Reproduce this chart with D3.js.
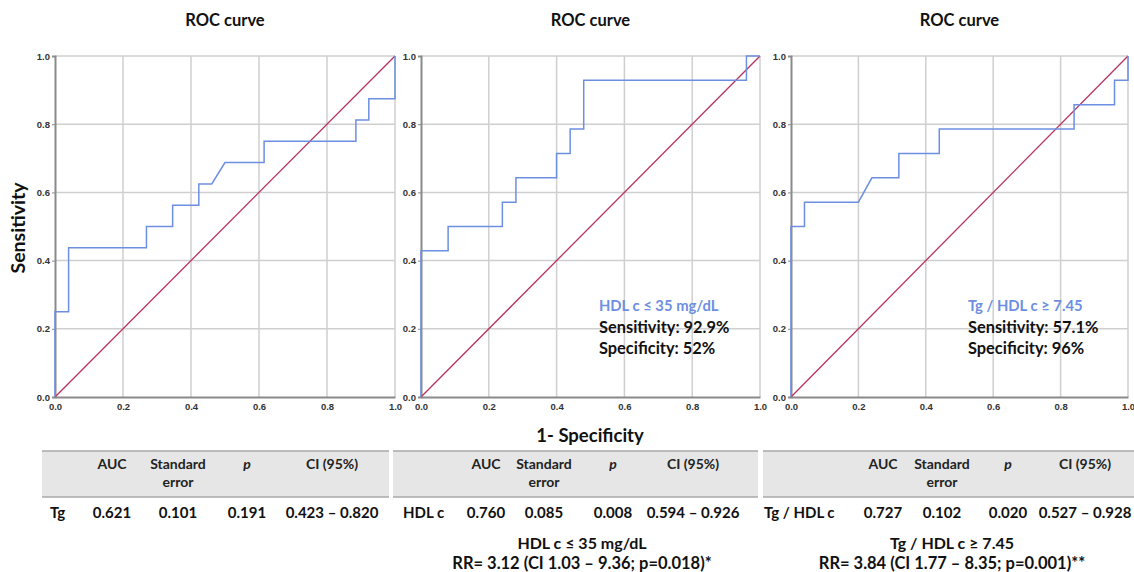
<!DOCTYPE html>
<html>
<head>
<meta charset="utf-8">
<script src="https://cdn.jsdelivr.net/npm/d3@7"></script>
<style>
  body { margin: 0; background: #fff; }
  svg text { font-family: Lato, "Open Sans", sans-serif; }
</style>
</head>
<body>
<svg id="chart" width="1134" height="572"></svg>
<script>
// ROC curves: [1 - specificity, sensitivity]
var tgCurve = [[0,0],[0,0.25],[0.04,0.25],[0.04,0.4375],[0.269,0.4375],[0.269,0.5],[0.346,0.5],[0.346,0.5625],
  [0.423,0.5625],[0.423,0.625],[0.461,0.625],[0.5,0.6875],[0.615,0.6875],[0.615,0.75],[0.885,0.75],
  [0.885,0.8125],[0.923,0.8125],[0.923,0.875],[1,0.875],[1,1]];
var hdlCurve = [[0,0],[0,0.4286],[0.08,0.4286],[0.08,0.5],[0.24,0.5],[0.24,0.5714],[0.28,0.5714],[0.28,0.6429],
  [0.4,0.6429],[0.4,0.7143],[0.44,0.7143],[0.44,0.7857],[0.48,0.7857],[0.48,0.9286],[0.96,0.9286],
  [0.96,1],[1,1]];
var ratioCurve = [[0,0],[0,0.5],[0.04,0.5],[0.04,0.5714],[0.2,0.5714],[0.24,0.6429],[0.32,0.6429],[0.32,0.7143],
  [0.44,0.7143],[0.44,0.7857],[0.84,0.7857],[0.84,0.8571],[0.96,0.8571],[0.96,0.9286],[1,0.9286],[1,1]];
var curves = [tgCurve, hdlCurve, ratioCurve];

var ticks = [0, 0.2, 0.4, 0.6, 0.8, 1.0];
var titles = ["ROC curve", "ROC curve", "ROC curve"];
var cutoffs = [null, "HDL c \u2264 35 mg/dL", "Tg / HDL c \u2265 7.45"];
var sensitivities = [null, "Sensitivity: 92.9%", "Sensitivity: 57.1%"];
var specificities = [null, "Specificity: 52%", "Specificity: 96%"];

var tableHeader = ["AUC", "Standard|error", "p", "CI (95%)"];
var rowLabels = ["Tg", "HDL c", "Tg / HDL c"];
var aucValues = ["0.621", "0.760", "0.727"];
var seValues = ["0.101", "0.085", "0.102"];
var pValues = ["0.191", "0.008", "0.020"];
var ciValues = ["0.423 \u2013 0.820", "0.594 \u2013 0.926", "0.527 \u2013 0.928"];
var rrCutoffs = [null, "HDL c \u2264 35 mg/dL", "Tg / HDL c \u2265 7.45"];
var rrValues = [null, "RR= 3.12 (CI 1.03 \u2013 9.36; p=0.018)*", "RR= 3.84 (CI 1.77 \u2013 8.35; p=0.001)**"];

var svg = d3.select("#chart");
var blue = "#6d8fe2", red = "#b8325e", grid = "#cfcfcf", axisCol = "#8a8a8a";
var panelX = [55, 421, 791], panelW = [340, 339, 337];
var plotTop = 56, plotBottom = 397;

curves.forEach(function(curve, i) {
  var x = d3.scaleLinear().domain([0, 1]).range([panelX[i], panelX[i] + panelW[i]]);
  var y = d3.scaleLinear().domain([0, 1]).range([plotBottom, plotTop]);
  var g = svg.append("g");

  g.selectAll("line.vg").data(ticks.slice(1)).enter().append("line")
    .attr("x1", d => x(d)).attr("x2", d => x(d)).attr("y1", plotTop).attr("y2", plotBottom)
    .attr("stroke", grid).attr("stroke-width", 1.5);
  g.selectAll("line.hg").data(ticks.slice(1)).enter().append("line")
    .attr("y1", d => y(d)).attr("y2", d => y(d)).attr("x1", x(0)).attr("x2", x(1))
    .attr("stroke", grid).attr("stroke-width", 1.5);

  // axes
  var ya = g.append("g").attr("transform", "translate(" + x(0) + ",0)")
    .call(d3.axisLeft(y).tickValues(ticks).tickFormat(d3.format(".1f")).tickSize(3).tickPadding(2));
  var xa = g.append("g").attr("transform", "translate(0," + plotBottom + ")")
    .call(d3.axisBottom(x).tickValues(ticks).tickFormat(d3.format(".1f")).tickSize(0).tickPadding(6));
  [ya, xa].forEach(function(a) {
    a.select(".domain").attr("stroke", axisCol).attr("stroke-width", 2);
    a.selectAll(".tick line").attr("stroke", axisCol);
    a.selectAll("text").attr("fill", "#333").style("font-family", "'Liberation Sans', Arial, sans-serif")
      .style("font-size", "9.5px").style("font-weight", "bold");
  });

  g.append("line").attr("x1", x(0)).attr("y1", y(0)).attr("x2", x(1)).attr("y2", y(1))
    .attr("stroke", red).attr("stroke-width", 1.3);
  g.append("path").datum(curve)
    .attr("d", d3.line().x(d => x(d[0])).y(d => y(d[1])))
    .attr("fill", "none").attr("stroke", blue).attr("stroke-width", 1.5);

  svg.append("text").attr("x", x(0.5)).attr("y", 26).attr("text-anchor", "middle")
    .style("font-size", "16.5px").style("font-weight", "bold").attr("fill", "#111").text(titles[i]);

  if (cutoffs[i]) {
    var ax = x(0.525);
    svg.append("text").attr("x", ax).attr("y", 311).attr("fill", blue)
      .style("font-size", "14.8px").style("font-weight", "bold").text(cutoffs[i]);
    svg.append("text").attr("x", ax).attr("y", 333).attr("fill", "#111")
      .style("font-size", "16.4px").style("font-weight", "bold").text(sensitivities[i]);
    svg.append("text").attr("x", ax).attr("y", 354).attr("fill", "#111")
      .style("font-size", "16.4px").style("font-weight", "bold").text(specificities[i]);
  }
});

svg.append("text").attr("transform", "translate(25,228) rotate(-90)").attr("text-anchor", "middle")
  .style("font-size", "19.5px").style("font-weight", "bold").attr("fill", "#111").text("Sensitivity");
svg.append("text").attr("x", 590).attr("y", 442).attr("text-anchor", "middle")
  .style("font-size", "18.5px").style("font-weight", "bold").attr("fill", "#111").text("1- Specificity");

// tables
var tableX = [[42, 389], [393, 758], [763, 1134]];
var labelX = [50, 403, 764];
var colX = [[112, 178, 247, 332], [486, 544, 613, 693], [883, 942, 1008, 1085]];
var rrCenter = [null, 582, 952];
var rows = [aucValues, seValues, pValues, ciValues];

tableX.forEach(function(tx, i) {
  var t = svg.append("g");
  t.append("rect").attr("x", tx[0]).attr("y", 451).attr("width", tx[1] - tx[0]).attr("height", 46).attr("fill", "#e6e6e6");
  t.append("line").attr("x1", tx[0]).attr("x2", tx[1]).attr("y1", 451).attr("y2", 451).attr("stroke", "#a8a8a8").attr("stroke-width", 1.5);
  t.append("line").attr("x1", tx[0]).attr("x2", tx[1]).attr("y1", 497).attr("y2", 497).attr("stroke", "#a8a8a8").attr("stroke-width", 1.5);

  tableHeader.forEach(function(h, j) {
    var parts = h.split("|");
    parts.forEach(function(p, k) {
      t.append("text").attr("x", colX[i][j]).attr("y", 469 + k * 18).attr("text-anchor", "middle")
        .style("font-size", "14px").style("font-weight", "bold").style("font-style", p === "p" ? "italic" : "normal")
        .attr("fill", "#222").text(p);
    });
  });
  t.append("text").attr("x", labelX[i]).attr("y", 518)
    .style("font-size", "15px").style("font-weight", "bold").attr("fill", "#111").text(rowLabels[i]);
  rows.forEach(function(vals, j) {
    t.append("text").attr("x", colX[i][j]).attr("y", 518).attr("text-anchor", "middle")
      .style("font-size", "15px").style("font-weight", "bold").attr("fill", "#111").text(vals[i]);
  });

  if (rrValues[i]) {
    t.append("text").attr("x", rrCenter[i]).attr("y", 549).attr("text-anchor", "middle")
      .style("font-size", "16px").style("font-weight", "bold").attr("fill", "#111").text(rrCutoffs[i]);
    t.append("text").attr("x", rrCenter[i]).attr("y", 569).attr("text-anchor", "middle")
      .style("font-size", "16.5px").style("font-weight", "bold").attr("fill", "#111").text(rrValues[i]);
  }
});
</script>
</body>
</html>
